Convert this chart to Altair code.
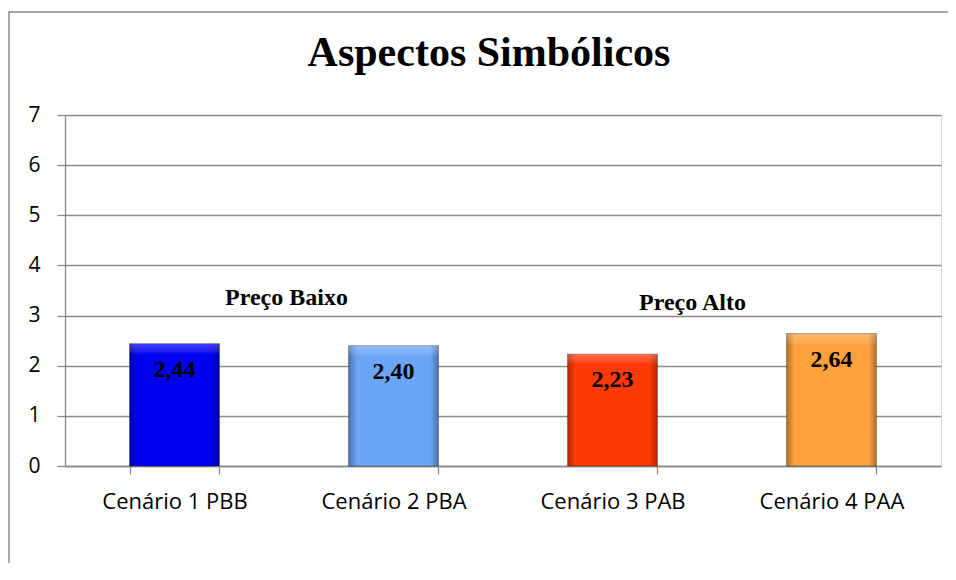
import altair as alt
import pandas as pd

categories = ["Cenário 1 PBB", "Cenário 2 PBA", "Cenário 3 PAB", "Cenário 4 PAA"]
values = [2.44, 2.40, 2.23, 2.64]
bar_colors = ["#0000F2", "#6CA4F6", "#FF3A05", "#FFA23C"]
group_labels = ["Preço Baixo", "Preço Alto"]
group_anchor = ["Cenário 1 PBB", "Cenário 3 PAB"]
group_y = [3.35, 3.25]
group_dx = [112, 80]
title_text = "Aspectos Simbólicos"

df = pd.DataFrame({
    "cat": categories,
    "val": values,
    "label": [f"{v:.2f}".replace(".", ",") for v in values],
})

W, H = 876, 351
SANS = "Open Sans"
SERIF = "Liberation Serif"
GRID = "#8a8a8a"

xenc = alt.X("cat:N", sort=categories,
             scale=alt.Scale(paddingInner=0.59, paddingOuter=0.295),
             axis=alt.Axis(title=None, labelFont=SANS, labelFontSize=22, labelColor="#000",
                           labelPadding=17, tickBand="extent", tickSize=8, tickColor=GRID,
                           domainColor=GRID, domainWidth=1.3, tickWidth=1.3, grid=False,
                           labelAngle=0))
yscale = alt.Scale(domain=[0, 7], nice=False, zero=True)
yenc = alt.Y("val:Q", scale=yscale,
             axis=alt.Axis(title=None, values=[0, 1, 2, 3, 4, 5, 6, 7], labelFont=SANS,
                           labelFontSize=21, labelColor="#000", labelPadding=17,
                           tickSize=8, tickColor=GRID, tickWidth=1.3, domainColor=GRID,
                           domainWidth=1.3, grid=True, gridColor=GRID, gridWidth=1.3))

bars = alt.Chart(df).mark_bar(stroke="#00000055", strokeWidth=1).encode(
    x=xenc, y=yenc,
    color=alt.Color("cat:N", sort=categories,
                    scale=alt.Scale(domain=categories, range=bar_colors), legend=None),
)

edge_shade = alt.Chart(df).mark_bar(
    color=alt.Gradient(gradient="linear", x1=0, x2=1, y1=0, y2=0,
                       stops=[alt.GradientStop(color="rgba(0,0,0,0.30)", offset=0),
                              alt.GradientStop(color="rgba(0,0,0,0)", offset=0.09),
                              alt.GradientStop(color="rgba(0,0,0,0)", offset=0.91),
                              alt.GradientStop(color="rgba(0,0,0,0.30)", offset=1)])
).encode(x=alt.X("cat:N", sort=categories), y=alt.Y("val:Q", scale=yscale))

top_light = alt.Chart(df).mark_bar(
    color=alt.Gradient(gradient="linear", x1=0, x2=0, y1=0, y2=1,
                       stops=[alt.GradientStop(color="rgba(255,255,255,0.25)", offset=0),
                              alt.GradientStop(color="rgba(255,255,255,0.12)", offset=0.06),
                              alt.GradientStop(color="rgba(255,255,255,0)", offset=0.09),
                              alt.GradientStop(color="rgba(255,255,255,0)", offset=1)])
).encode(x=alt.X("cat:N", sort=categories), y=alt.Y("val:Q", scale=yscale))

value_text = alt.Chart(df).mark_text(
    font=SERIF, fontWeight="bold", fontSize=24, color="#000", baseline="middle", dy=26
).encode(x=alt.X("cat:N", sort=categories), y=alt.Y("val:Q", scale=yscale), text="label:N")

layers = [bars, edge_shade, top_light, value_text]

for lbl, anc, gy, gdx in zip(group_labels, group_anchor, group_y, group_dx):
    gdf = pd.DataFrame({"cat": [anc], "y": [gy], "t": [lbl]})
    layers.append(
        alt.Chart(gdf).mark_text(font=SERIF, fontWeight="bold", fontSize=24, color="#000",
                                 baseline="middle", dx=gdx)
        .encode(x=alt.X("cat:N", sort=categories), y=alt.Y("y:Q", scale=yscale), text="t:N")
    )

frame = alt.Chart(pd.DataFrame({"a": [0]})).mark_rect(
    fill=None, stroke="#8c8c8c", strokeWidth=1.5
).encode(x=alt.value(-56), x2=alt.value(1000), y=alt.value(-103), y2=alt.value(600))
layers.insert(0, frame)

title = alt.Chart(pd.DataFrame({"t": [title_text]})).mark_text(
    font=SERIF, fontSize=42, fontWeight="bold", color="#000", align="center",
    baseline="alphabetic"
).encode(x=alt.value(424), y=alt.value(-49), text="t:N")
layers.append(title)

chart = alt.layer(*layers).properties(
    width=W, height=H,
    autosize=alt.AutoSizeParams(type="none"),
    padding={"left": 57, "top": 107, "right": 7, "bottom": 97},
).configure_view(stroke=None).configure(background="white")

chart.save("out.html", embed_options={"renderer": "svg", "actions": False})
